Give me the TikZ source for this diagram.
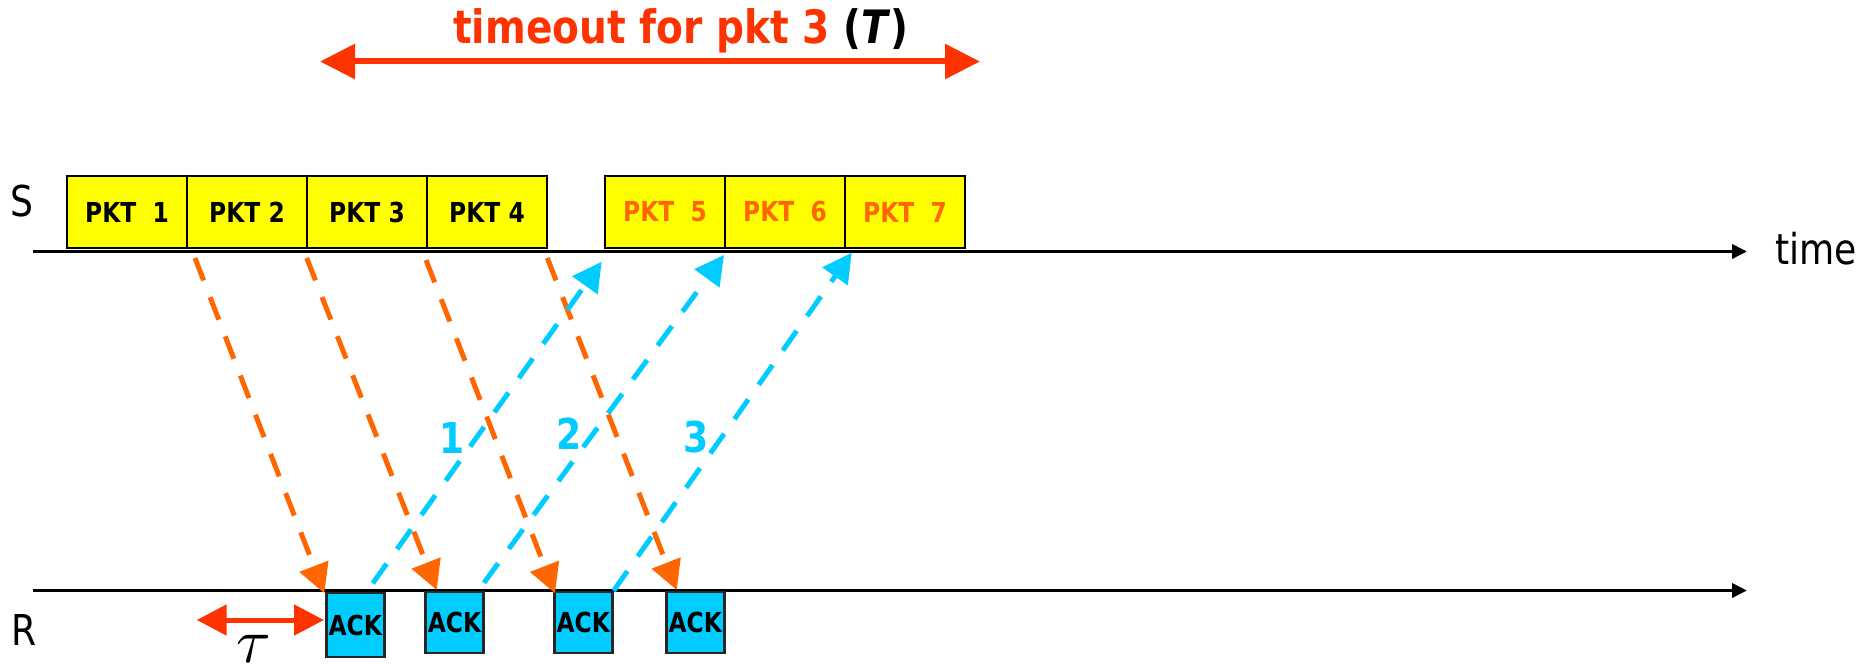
\documentclass[tikz,border=0pt]{standalone}
\usepackage{fontspec}
\setmainfont{DejaVu Sans}[FakeStretch=0.85]
\usetikzlibrary{arrows.meta}
\definecolor{pktyellow}{HTML}{FFFF00}
\definecolor{ackblue}{HTML}{00CCFF}
\definecolor{sendorange}{HTML}{FF6600}
\definecolor{timeoutred}{HTML}{FF3300}
\newcommand{\fsz}[1]{\fontsize{#1}{#1}\selectfont}

\begin{document}
\begin{tikzpicture}[x=1pt,y=-1pt,
  pkt/.style={draw=black, line width=2.5pt, fill=pktyellow, minimum width=120pt,
    minimum height=72pt, inner sep=0pt, font=\fsz{27.5}\bfseries},
  ack/.style={draw=black!85, line width=2.5pt, fill=ackblue, minimum width=58pt,
    minimum height=61pt, inner sep=0pt, font=\fsz{27.5}\bfseries},
  axis/.style={line width=3.5pt, -{Triangle[length=15pt,width=14pt]}},
  data/.style={sendorange, line width=5pt, dash pattern=on 24pt off 18pt,
    -{Triangle[length=29pt,width=30pt]}},
  reply/.style={ackblue, line width=5pt, dash pattern=on 24pt off 18pt,
    -{Triangle[length=29pt,width=30pt]}},
  span/.style={timeoutred, line width=6pt,
    {Triangle[length=35pt,width=34pt]}-{Triangle[length=35pt,width=34pt]}},
  side/.style={anchor=base west, inner sep=0pt, font=\fsz{42.5}},
  acknum/.style={inner sep=0pt, font=\fsz{42.5}\bfseries, text=ackblue}]

\useasboundingbox (0,0) rectangle (1862,668);

% sender and receiver time axes
\coordinate (s0) at (33,251.5);
\coordinate (s1) at (1747,251.5);
\coordinate (r0) at (33,590.5);
\coordinate (r1) at (1747,590.5);
\draw[axis] (s0) -- (s1);
\draw[axis] (r0) -- (r1);

\node[side] (S) at (10,216.7) {S};
\node[side] (R) at (11,645) {R};
\node[side] (time) at (1775,265) {time};

% packets sent
\node[pkt] (p1) at (127,212) {PKT\ \ 1};
\node[pkt] (p2) at (247,212) {PKT 2};
\node[pkt] (p3) at (367,212) {PKT 3};
\node[pkt] (p4) at (487,212) {PKT 4};
\node[pkt, text=sendorange] (p5) at (665,212) {PKT\ \ 5};
\node[pkt, text=sendorange] (p6) at (785,212) {PKT\ \ 6};
\node[pkt, text=sendorange] (p7) at (905,212) {PKT\ \ 7};

% acknowledgements at the receiver
\node[ack, minimum height=64pt] (a1) at (355.3,625) {ACK};
\node[ack] (a2) at (454.5,622.5) {ACK};
\node[ack] (a3) at (583.3,622.5) {ACK};
\node[ack] (a4) at (695.3,622.5) {ACK};

% timeout interval
\coordinate (tA) at (320,61.5);
\coordinate (tB) at (980,61.5);
\draw[span] (tA) -- (tB);
\node[anchor=base west, inner sep=0pt, font=\fsz{46}\bfseries, text=timeoutred]
  (tlabel) at (453,44) {timeout for pkt 3 \textcolor{black}{(\textit{T})}};

% propagation delay
\coordinate (d0) at (196.7,620);
\coordinate (d1) at (324,620);
\draw[timeoutred, line width=5pt,
  {Triangle[length=30pt,width=30pt]}-{Triangle[length=30pt,width=30pt]}] (d0) -- (d1);
\node[scale=6.3, inner sep=0pt] (tau) at (254,648.5) {$\tau$};

% data packets travelling to the receiver
\coordinate (o1s) at (195,258);   \coordinate (o1e) at (324.3,593.3);
\coordinate (o2s) at (306.7,258); \coordinate (o2e) at (436.7,590);
\coordinate (o3s) at (426,260);   \coordinate (o3e) at (555,593.3);
\coordinate (o4s) at (547.3,258); \coordinate (o4e) at (676.7,590);
\draw[data] (o1s) -- (o1e);
\draw[data] (o2s) -- (o2e);
\draw[data] (o3s) -- (o3e);
\draw[data] (o4s) -- (o4e);

% acknowledgements travelling back
\coordinate (b1s) at (372.7,583.3); \coordinate (b1e) at (601.7,261.7);
\coordinate (b2s) at (484,582.7);   \coordinate (b2e) at (724,255);
\coordinate (b3e) at (851.7,252.7);
\draw[reply] (b1s) -- (b1e);
\draw[reply] (b2s) -- (b2e);
\draw[reply] (a3.north east) -- (b3e);

\node[acknum] (n1) at (451.7,438.3) {1};
\node[acknum] (n2) at (569.2,434.2) {2};
\node[acknum] (n3) at (695.8,437) {3};

\end{tikzpicture}
\end{document}
